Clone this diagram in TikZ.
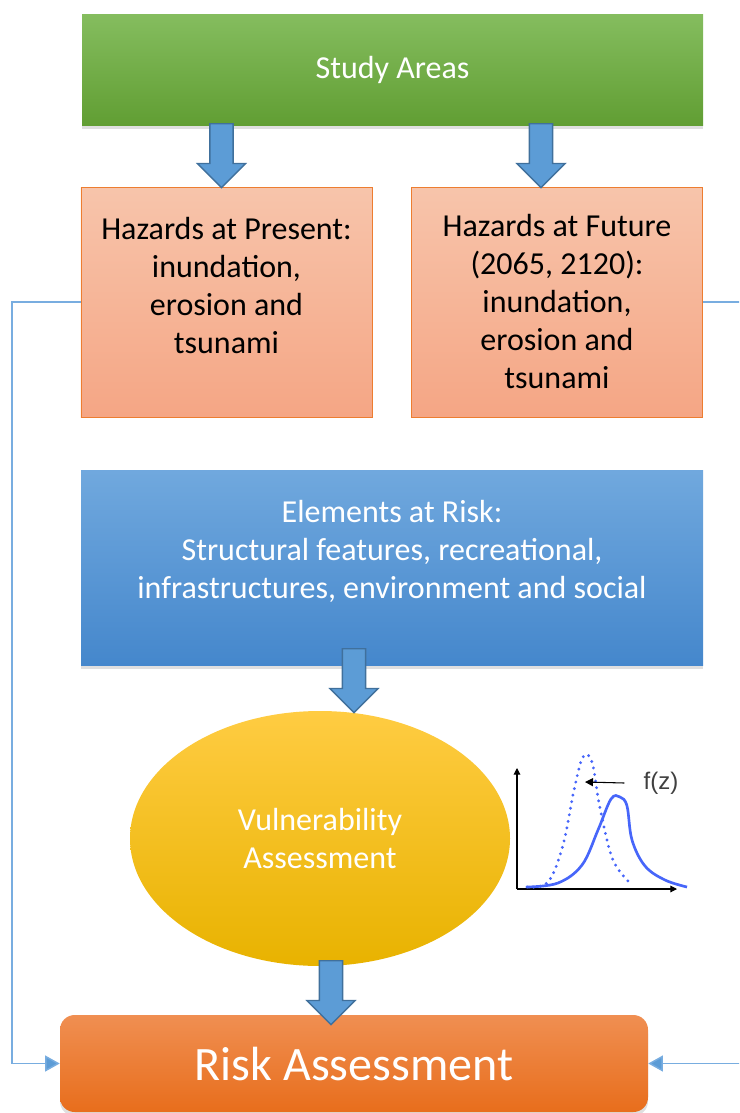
\documentclass[tikz,border=0pt]{standalone}
\usepackage{fontspec}
\setmainfont{Carlito}
\newfontfamily\petitsans{Liberation Sans}
\definecolor{vertclair}{rgb}{0.52,0.74,0.37}
\definecolor{vertfonce}{rgb}{0.38,0.62,0.20}
\definecolor{saumonhaut}{rgb}{0.97,0.77,0.67}
\definecolor{saumonbas}{rgb}{0.96,0.65,0.52}
\definecolor{orangebord}{rgb}{0.93,0.49,0.19}
\definecolor{bleuclair}{rgb}{0.44,0.66,0.87}
\definecolor{bleufonce}{rgb}{0.27,0.53,0.80}
\definecolor{jaunehaut}{rgb}{1,0.80,0.26}
\definecolor{jaunemilieu}{rgb}{1,0.75,0}
\definecolor{jaunebas}{rgb}{0.91,0.70,0}
\definecolor{orangehaut}{rgb}{0.94,0.56,0.32}
\definecolor{orangebas}{rgb}{0.91,0.43,0.11}
\definecolor{bleufleche}{rgb}{0.36,0.61,0.84}
\definecolor{flechebord}{rgb}{0.25,0.44,0.61}
\definecolor{lien}{rgb}{0.47,0.68,0.88}
\definecolor{courbe}{rgb}{0.28,0.40,0.98}
\definecolor{gris}{rgb}{0.25,0.25,0.25}
\usetikzlibrary{arrows.meta,shapes.geometric,shapes.arrows,shadows}

\begin{document}
\begin{tikzpicture}[x=0.75pt, y=-0.75pt, thin] % units are pixels
  \tikzstyle{every node}=[font=\fontsize{24}{28.5}\selectfont, align=center]
  \tikzstyle{ombre}=[drop shadow={shadow xshift=0pt, shadow yshift=-3pt, opacity=0.25}]
  \tikzstyle{zone}=[rectangle, minimum width=465.75pt, minimum height=82.5pt, text=white,
                    top color=vertclair, bottom color=vertfonce, ombre]
  \tikzstyle{danger}=[rectangle, draw=orangebord, minimum width=218.5pt, minimum height=172.5pt,
                      top color=saumonhaut, bottom color=saumonbas]
  \tikzstyle{enjeux}=[rectangle, minimum width=466.5pt, minimum height=146.25pt, text=white,
                      top color=bleuclair, bottom color=bleufonce, ombre]
  \tikzstyle{vulner}=[ellipse, minimum width=285pt, minimum height=191.25pt, inner sep=0pt, text=white,
                      top color=jaunehaut, middle color=jaunemilieu, bottom color=jaunebas]
  \tikzstyle{risque}=[rectangle, rounded corners=11pt, minimum width=441pt, minimum height=72.75pt,
                      text=white, font=\fontsize{36}{40}\selectfont,
                      top color=orangehaut, bottom color=orangebas, ombre]
  \tikzstyle{fleche}=[single arrow, draw=flechebord, fill=bleufleche, line width=1pt,
                      minimum height=48pt, minimum width=36pt, single arrow head extend=9.4pt,
                      inner xsep=0pt, inner ysep=8.2pt, rotate=-90, anchor=tail]
  \tikzstyle{lien}=[draw=lien, line width=1.1pt, -{Triangle[length=11pt, width=12pt, fill=bleufleche]}]

  \clip (0,0) rectangle (739,1113);

  \node[zone] (etude) at (392.5,70) {Study Areas};
  \node[danger] (present) at (226.5,302)
    {}; % text sits high in this box
  \node[anchor=north, inner sep=0pt] (present-txt) at (226.5,217)
    {Hazards at Present:\\inundation,\\erosion and\\tsunami};
  \node[danger] (futur) at (557,302)
    {Hazards at Future\\(2065, 2120):\\inundation,\\erosion and\\tsunami};
  \node[enjeux] (elements) at (392,567.5) {};
  \node[anchor=north, inner sep=0pt, text=white] (elements-txt) at (392,500)
    {Elements at Risk:\\Structural features, recreational,\\infrastructures, environment and social};
  \node[vulner] (vulnerab) at (320,838.5) {Vulnerability\\Assessment};
  \node[risque] (risk) at (354,1063.5) {Risk Assessment};

  \node[fleche] (f1) at (221.5,123) {};
  \node[fleche] (f2) at (541,123) {};
  \node[fleche] (f3) at (354,648) {};
  \node[fleche] (f4) at (331,960) {};

  \draw[lien] (present.west) -- (12,302) |- (risk.west);
  \draw[lien] (futur.east) -- (760,302) |- (risk.east);

  % density curves
  \draw[black, line width=0.8pt, -{Triangle[length=5pt, width=5pt]}] (517,889) -- (517,768);
  \draw[black, line width=0.8pt, -{Triangle[length=5pt, width=5pt]}] (517,889) -- (677,889);
  \draw[courbe, line width=2pt] plot[smooth, tension=0.6] coordinates
    {(527,887) (558,883) (582,865) (598,830) (611,799) (620,797) (627,806) (632,840) (645,866) (665,880) (687,887)};
  \draw[courbe, line width=2.4pt, line cap=round, dash pattern=on 0pt off 5pt] plot[smooth, tension=0.6] coordinates
    {(527,887) (548,882) (563,845) (574,790) (583,757) (592,762) (600,808) (613,860) (632,885)};
  \node[font=\petitsans\fontsize{18}{18}\selectfont, text=gris] (fz) at (661,783) {f(z)};
  \coordinate (pic) at (585,782);
  \draw[black, line width=0.8pt, -{Triangle[length=6pt, width=6pt]}] ([xshift=-11pt]fz.west) -- (pic);
\end{tikzpicture}
\end{document}
